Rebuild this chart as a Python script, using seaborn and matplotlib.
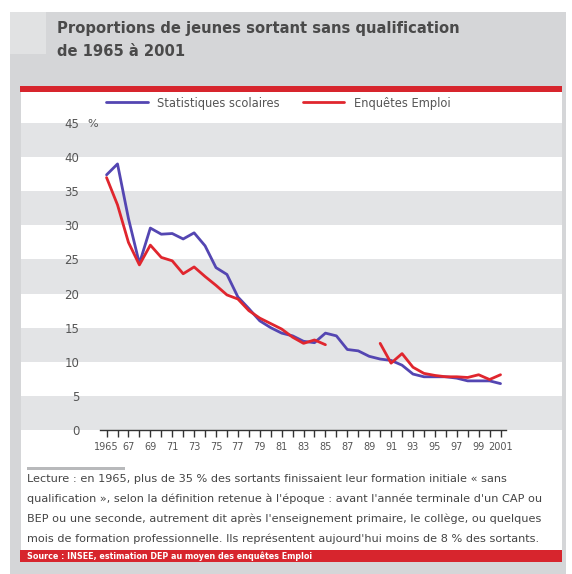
import numpy as np
import matplotlib
matplotlib.use("Agg")
import matplotlib.pyplot as plt
from matplotlib.patches import Rectangle
from matplotlib.lines import Line2D
import seaborn as sns

# Données
annees = list(range(1965, 2002))
stat_scolaires = [37.4, 39.0, 31.0, 24.4, 29.6, 28.7, 28.8, 28.0, 28.9, 27.0,
                  23.8, 22.8, 19.5, 17.8, 16.0, 15.0, 14.2, 13.8, 13.0, 12.8,
                  14.2, 13.8, 11.8, 11.6, 10.8, 10.4, 10.2, 9.5, 8.2, 7.8,
                  7.8, 7.8, 7.6, 7.2, 7.2, 7.2, 6.8]
enquetes_emploi = [37.0, 33.0, 27.5, 24.2, 27.1, 25.3, 24.8, 22.9, 23.9, 22.5,
                   21.2, 19.8, 19.2, 17.5, 16.4, 15.6, 14.8, 13.6, 12.7, 13.2,
                   12.5, np.nan, np.nan, np.nan, np.nan, 12.7, 9.8, 11.2, 9.2, 8.3,
                   8.0, 7.8, 7.8, 7.7, 8.1, 7.4, 8.1]
yticks = [0, 5, 10, 15, 20, 25, 30, 35, 40, 45]
xtick_labels = ["1965"] + [f"{a % 100:02d}" for a in range(1967, 2001, 2)] + ["2001"]

W, H = 572, 574
BLEU = "#5446b2"
ROUGE = "#e0262e"
ROUGE_BARRE = "#d7252d"
GRIS_FOND = "#d5d6d8"
GRIS_BANDE = "#e3e4e6"
TEXTE = "#555555"

sns.set_theme(style="white")
plt.rcParams["font.family"] = ["DejaVu Sans"]

fig = plt.figure(figsize=(W / 100, H / 100), dpi=100)


def rect(x0, y0, x1, y1, color):
    # rectangle en pixels (origine en haut à gauche)
    fig.patches.append(Rectangle((x0 / W, 1 - y1 / H), (x1 - x0) / W, (y1 - y0) / H,
                                 transform=fig.transFigure, color=color, zorder=-5, lw=0))


def segments(x, y):
    # découpe une série aux valeurs manquantes
    morceaux, cx, cy = [], [], []
    for a, v in zip(x, y):
        if np.isnan(v):
            if cx:
                morceaux.append((cx, cy))
            cx, cy = [], []
        else:
            cx.append(a)
            cy.append(v)
    if cx:
        morceaux.append((cx, cy))
    return morceaux


# Cadre et bandeaux
rect(10, 12, 566, 574, GRIS_FOND)
rect(10, 12, 46, 54, "#e1e2e3")
rect(21, 92, 562, 550, "white")
rect(20, 86, 562, 92, ROUGE_BARRE)
rect(20, 550, 562, 562, ROUGE_BARRE)
rect(27, 467, 125, 470, "#b8b9bb")

fig.text(57 / W, 1 - 29 / H, "Proportions de jeunes sortant sans qualification",
         fontsize=10.6, fontweight="bold", color="#4a4a4a", va="center")
fig.text(57 / W, 1 - 51 / H, "de 1965 à 2001",
         fontsize=10.6, fontweight="bold", color="#4a4a4a", va="center")

# Axes
ax = fig.add_axes([100 / W, 1 - 430 / H, 406 / W, 307 / H])
ax.set_zorder(2)
ax.set_facecolor("none")
for k in range(0, 45, 10):
    ax.axhspan(k, k + 5, xmin=-0.195, xmax=1.138, color=GRIS_BANDE, lw=0,
               zorder=0, clip_on=False)

sns.lineplot(x=annees, y=stat_scolaires, ax=ax, color=BLEU, lw=2.0, zorder=3)
for sx, sy in segments(annees, enquetes_emploi):
    sns.lineplot(x=sx, y=sy, ax=ax, color=ROUGE, lw=2.0, zorder=4)

ax.set_xlim(1964.4, 2001.5)
ax.set_ylim(0, 45)
for s in ["top", "right", "left"]:
    ax.spines[s].set_visible(False)
ax.spines["bottom"].set_color("#333333")
ax.spines["bottom"].set_linewidth(1.0)

ax.set_yticks(yticks)
ax.set_yticklabels([str(v) for v in yticks])
ax.tick_params(axis="y", length=0, pad=15, labelsize=8.5, labelcolor=TEXTE)
ax.text(-0.032, 45, "%", transform=ax.get_yaxis_transform(), ha="left",
        va="center_baseline", fontsize=8, color=TEXTE)

ax.set_xticks(annees, minor=True)
ax.set_xticks(list(range(1965, 2002, 2)))
ax.set_xticklabels(xtick_labels)
ax.tick_params(axis="x", which="both", direction="out", length=5, width=1,
               color="#333333", bottom=True, labelsize=7, labelcolor=TEXTE, pad=4)

# Légende
handles = [Line2D([], [], color=BLEU, lw=2.0), Line2D([], [], color=ROUGE, lw=2.0)]
fig.legend(handles, ["Statistiques scolaires", "Enquêtes Emploi"],
           loc="center left", bbox_to_anchor=(96 / W, 1 - 103 / H), ncol=2,
           frameon=False, fontsize=8.3, handlelength=3.6, columnspacing=2.0,
           handletextpad=0.8, labelcolor=TEXTE)

# Note de lecture
note = ["Lecture : en 1965, plus de 35 % des sortants finissaient leur formation initiale « sans",
        "qualification », selon la définition retenue à l'époque : avant l'année terminale d'un CAP ou",
        "BEP ou une seconde, autrement dit après l'enseignement primaire, le collège, ou quelques",
        "mois de formation professionnelle. Ils représentent aujourd'hui moins de 8 % des sortants."]
for i, ligne in enumerate(note):
    fig.text(27 / W, 1 - (479 + 20 * i) / H, ligne, fontsize=8.1, color="#444444",
             va="center")

fig.text(27 / W, 1 - 556 / H, "Source : INSEE, estimation DEP au moyen des enquêtes Emploi",
         fontsize=5.8, fontweight="bold", color="white", va="center")

fig.savefig("out.png", dpi=100)
